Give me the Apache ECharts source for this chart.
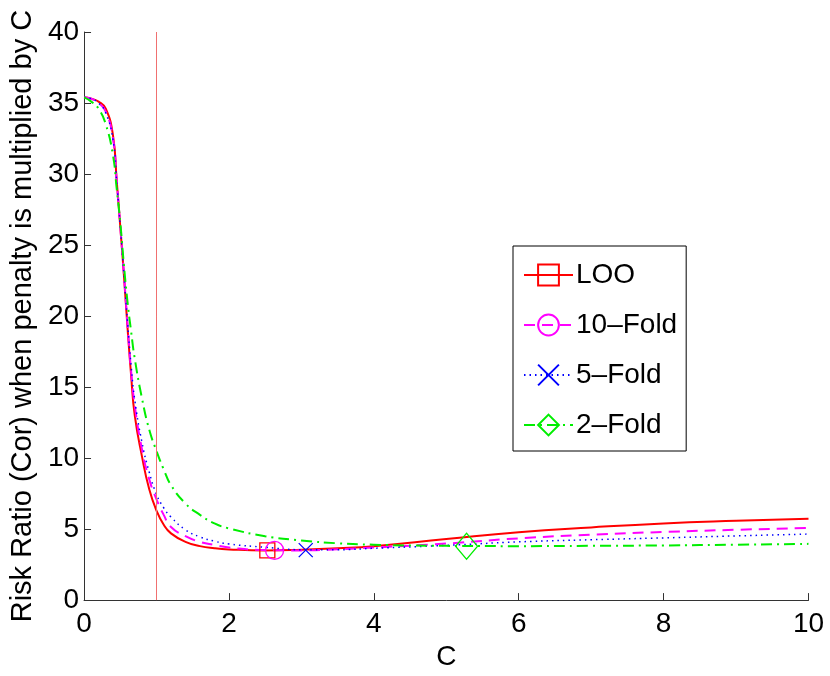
<!DOCTYPE html>
<html>
<head>
<meta charset="utf-8">
<script src="https://cdn.jsdelivr.net/npm/echarts@6/dist/echarts.min.js"></script>
<style>
  html, body { margin: 0; padding: 0; background: #fff; }
  #chart { width: 830px; height: 676px; }
</style>
</head>
<body>
<div id="chart"></div>
<script>
// C values shared by all curves
const cValues = [0, 0.1, 0.2, 0.3, 0.4, 0.45, 0.5, 0.55, 0.6, 0.65, 0.7, 0.8, 0.9, 1.0, 1.1, 1.2, 1.4, 1.6, 1.8, 2.0, 2.5, 3, 3.5, 4, 5, 6, 7, 8, 9, 10];
const loo      = [35.4, 35.3, 35.1, 34.6, 32.7, 29.6, 26.3, 22.9, 19.2, 15.8, 13.0, 10.1, 7.8, 6.3, 5.3, 4.7, 4.1, 3.8, 3.65, 3.57, 3.5, 3.55, 3.65, 3.8, 4.3, 4.78, 5.12, 5.4, 5.58, 5.72];
const tenFold  = [35.4, 35.3, 35.0, 34.4, 32.5, 29.6, 26.3, 23.0, 19.4, 16.1, 13.7, 10.6, 8.5, 7.1, 6.0, 5.15, 4.5, 4.1, 3.88, 3.7, 3.52, 3.5, 3.58, 3.7, 3.98, 4.35, 4.6, 4.8, 4.95, 5.08];
const fiveFold = [35.4, 35.3, 35.0, 34.3, 32.4, 29.5, 26.3, 23.0, 19.6, 16.5, 14.1, 11.1, 9.0, 7.45, 6.5, 5.85, 4.95, 4.45, 4.15, 3.95, 3.72, 3.55, 3.55, 3.65, 3.85, 4.1, 4.25, 4.38, 4.52, 4.65];
const twoFold  = [35.4, 35.1, 34.6, 33.5, 31.3, 29.0, 26.6, 23.6, 21.0, 18.9, 17.0, 14.2, 12.0, 10.5, 9.2, 8.1, 6.8, 6.0, 5.4, 5.05, 4.5, 4.2, 4.0, 3.9, 3.82, 3.8, 3.82, 3.85, 3.9, 3.96];

// minimum of each curve (marked)
const minLoo = [2.53, 3.5];
const minTen = [2.63, 3.5];
const minFive = [3.06, 3.52];
const minTwo = [5.28, 3.8];

const xTicks = [0, 2, 4, 6, 8, 10];
const yTicks = [0, 5, 10, 15, 20, 25, 30, 35, 40];
const refC = 1;

const FONT = "'Liberation Sans', Arial, Helvetica, sans-serif";
const CROSS = 'path://M0,0L10,10M10,0L0,10';

function pairs(ys) {
	return cValues.map((c, i) => [c, ys[i]]);
}

function curve(name, ys, color, dash, width, symbol, minPt, markSize) {
	return {
		name: name,
		type: 'line',
		data: pairs(ys),
		smooth: 0.5,
		symbol: symbol,
		showSymbol: false,
		lineStyle: { color: color, width: width, type: dash },
		itemStyle: { color: 'rgba(0,0,0,0)', borderColor: color, borderWidth: 1.3 },
		markPoint: {
			silent: true,
			symbol: symbol,
			symbolSize: markSize,
			label: { show: false },
			itemStyle: { color: 'rgba(0,0,0,0)', borderColor: color, borderWidth: 1.3 },
			data: [{ coord: minPt }]
		}
	};
}

const chart = echarts.init(document.getElementById('chart'), null, { renderer: 'canvas' });

const series = [
	curve('LOO', loo, '#ff0000', 'solid', 2, 'rect', minLoo, 15),
	curve('10–Fold', tenFold, '#ff00ff', [11, 7], 2, 'circle', minTen, 18),
	curve('5–Fold', fiveFold, '#0000ff', [1.5, 4], 1.5, CROSS, minFive, 14),
	curve('2–Fold', twoFold, '#00ee00', [11, 5, 2, 5], 2, 'diamond', minTwo, [22, 26])
];
series[0].markLine = {
	silent: true,
	symbol: ['none', 'none'],
	label: { show: false },
	lineStyle: { color: '#f07070', width: 1, type: 'solid' },
	data: [{ xAxis: refC }]
};

chart.setOption({
	animation: false,
	backgroundColor: '#fff',
	grid: { left: 82.5, right: 21.5, top: 32, bottom: 72.7 },
	xAxis: {
		type: 'value',
		min: xTicks[0],
		max: xTicks[xTicks.length - 1],
		interval: 2,
		name: 'C',
		nameLocation: 'middle',
		nameGap: 38,
		nameTextStyle: { fontFamily: FONT, fontSize: 28, color: '#000' },
		axisLine: { show: true, lineStyle: { color: '#333', width: 1 } },
		axisTick: { show: true, inside: true, length: 7, lineStyle: { color: '#333' } },
		axisLabel: { fontFamily: FONT, fontSize: 28, color: '#000', margin: 10 },
		splitLine: { show: false }
	},
	yAxis: {
		type: 'value',
		min: yTicks[0],
		max: yTicks[yTicks.length - 1],
		interval: 5,
		name: 'Risk Ratio (Cor) when penalty is multiplied by C',
		nameLocation: 'middle',
		nameGap: 47,
		nameTextStyle: { fontFamily: FONT, fontSize: 29, color: '#000' },
		axisLine: { show: true, lineStyle: { color: '#333', width: 1 } },
		axisTick: { show: true, inside: true, length: 7, lineStyle: { color: '#333' } },
		axisLabel: { fontFamily: FONT, fontSize: 28, color: '#000', margin: 5 },
		splitLine: { show: false }
	},
	legend: {
		orient: 'vertical',
		left: 513,
		top: 246,
		padding: [15, 9, 12, 10],
		itemGap: 22,
		itemWidth: 49,
		itemHeight: 26,
		backgroundColor: '#fff',
		borderColor: '#000',
		borderWidth: 1,
		textStyle: { fontFamily: FONT, fontSize: 28, color: '#000', padding: [0, 0, 0, -2] },
		data: series.map(s => s.name)
	},
	series: series
});
</script>
</body>
</html>
